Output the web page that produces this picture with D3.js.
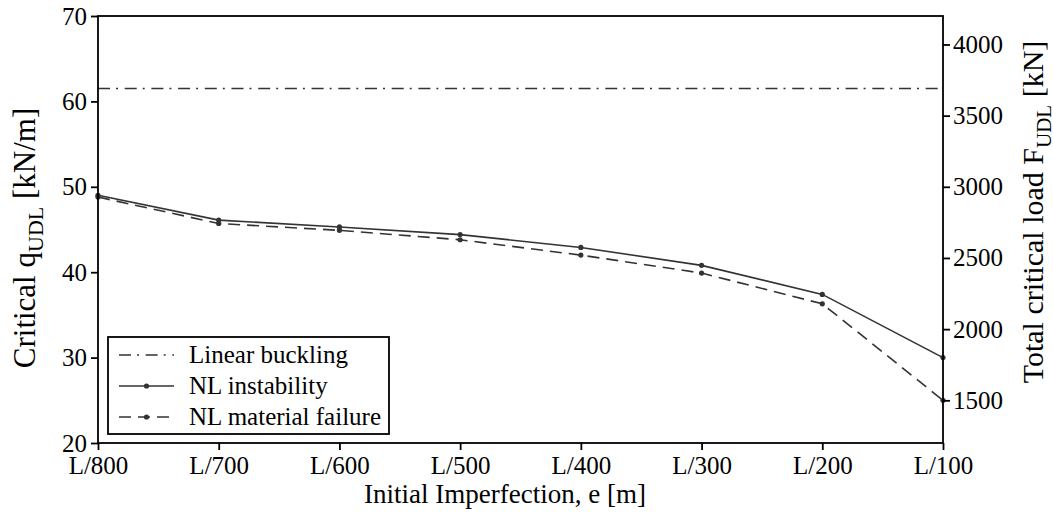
<!DOCTYPE html>
<html>
<head>
<meta charset="utf-8">
<script src="https://cdn.jsdelivr.net/npm/d3@7"></script>
</head>
<body style="margin:0">
<svg id="fig" width="1053" height="516" font-family="Liberation Serif, Times New Roman, serif">
<style>
  #fig text, #fig tspan, #fig .tick text { font-family: 'Liberation Serif', 'Times New Roman', serif !important; }
</style>
</svg>
<script>
// Imperfection levels along the member
const categories = ["L/800", "L/700", "L/600", "L/500", "L/400", "L/300", "L/200", "L/100"];
// Critical uniformly distributed load [kN/m]
const nlInstability = [49.0, 46.1, 45.3, 44.4, 42.9, 40.8, 37.4, 30.0];
const nlMaterialFailure = [48.8, 45.7, 44.9, 43.8, 42.0, 39.9, 36.3, 25.0];
const linearBuckling = 61.5;
// Left (q) and right (F) axis ticks
const leftTicks = [20, 30, 40, 50, 60, 70];
const rightTicks = [1500, 2000, 2500, 3000, 3500, 4000];
// Span length converting q [kN/m] into total load F [kN]
const spanLength = 60;

const margin = { top: 16, right: 110, bottom: 73, left: 98 };
const W = 1053, H = 516;
const iw = W - margin.left - margin.right;
const ih = H - margin.top - margin.bottom;

const svg = d3.select("#fig");
const g = svg.append("g").attr("transform", `translate(${margin.left},${margin.top})`);

const x = d3.scalePoint().domain(categories).range([0, iw]);
const y = d3.scaleLinear().domain([20, 70]).range([ih, 0]);
const yR = d3.scaleLinear().domain([20 * spanLength, 70 * spanLength]).range([ih, 0]);

const ink = "#333";

function label(sel, size) {
  return sel.attr("font-family", "Liberation Serif")
    .attr("font-size", size).attr("fill", "#000");
}

// Linear buckling reference
g.append("line")
  .attr("x1", 0).attr("x2", iw)
  .attr("y1", y(linearBuckling)).attr("y2", y(linearBuckling))
  .attr("stroke", ink).attr("stroke-width", 1.5)
  .attr("stroke-dasharray", "12,6,2,6.7");

const line = d3.line().x((d, i) => x(categories[i])).y(d => y(d));

function series(values, dash) {
  g.append("path")
    .datum(values)
    .attr("d", line)
    .attr("fill", "none")
    .attr("stroke", ink)
    .attr("stroke-width", 1.6)
    .attr("stroke-dasharray", dash);
  g.append("g").selectAll("circle")
    .data(values)
    .join("circle")
    .attr("cx", (d, i) => x(categories[i]))
    .attr("cy", d => y(d))
    .attr("r", 2.6)
    .attr("fill", ink);
}
series(nlMaterialFailure, "12,7");
series(nlInstability, null);

// Frame
g.append("rect")
  .attr("x", 0).attr("y", 0).attr("width", iw).attr("height", ih)
  .attr("fill", "none").attr("stroke", "#000").attr("stroke-width", 1.8);

function styleAxis(sel) {
  sel.attr("font-family", "Liberation Serif").attr("font-size", 25);
  sel.select(".domain").remove();
  sel.selectAll(".tick line").attr("stroke", "#000").attr("stroke-width", 1.8);
  label(sel.selectAll(".tick text"), 25);
}

g.append("g")
  .attr("transform", `translate(0,${ih})`)
  .call(d3.axisBottom(x).tickSize(7).tickPadding(6))
  .call(styleAxis);

g.append("g")
  .call(d3.axisLeft(y).tickValues(leftTicks).tickSize(7).tickPadding(4).tickFormat(d3.format("d")))
  .call(styleAxis);

g.append("g")
  .attr("transform", `translate(${iw},0)`)
  .call(d3.axisRight(yR).tickValues(rightTicks).tickSize(7).tickPadding(3).tickFormat(d3.format("d")))
  .call(styleAxis);

// Axis titles
label(svg.append("text"), 27)
  .attr("x", 505).attr("y", 503)
  .attr("text-anchor", "middle")
  .text("Initial Imperfection, e [m]");

const lt = label(svg.append("text"), 31)
  .attr("transform", "translate(35,238) rotate(-90)")
  .attr("text-anchor", "middle");
lt.append("tspan").text("Critical q");
lt.append("tspan").attr("dy", 8).attr("font-size", 22).text("UDL");
lt.append("tspan").attr("dy", -8).text(" [kN/m]");

const rt = label(svg.append("text"), 30)
  .attr("transform", "translate(1043,212) rotate(-90)")
  .attr("text-anchor", "middle");
rt.append("tspan").text("Total critical load F");
rt.append("tspan").attr("dy", 8).attr("font-size", 21).text("UDL");
rt.append("tspan").attr("dy", -8).text(" [kN]");

// Legend
const legend = svg.append("g").attr("transform", "translate(108,337)");
legend.append("rect")
  .attr("width", 281).attr("height", 97)
  .attr("fill", "#fff").attr("stroke", "#000").attr("stroke-width", 1.8);

const legendItems = [
  { label: "Linear buckling", dash: "12,6,2,6.7", marker: false },
  { label: "NL instability", dash: null, marker: true },
  { label: "NL material failure", dash: "12,7", marker: true }
];
legendItems.forEach((it, i) => {
  const cy = 18 + i * 31;
  legend.append("line")
    .attr("x1", 11).attr("x2", 66).attr("y1", cy).attr("y2", cy)
    .attr("stroke", ink).attr("stroke-width", 1.6)
    .attr("stroke-dasharray", it.dash);
  if (it.marker) {
    legend.append("circle").attr("cx", 38.5).attr("cy", cy).attr("r", 2.6).attr("fill", ink);
  }
  label(legend.append("text"), 25)
    .attr("x", 81).attr("y", cy + 8)
    .text(it.label);
});
</script>
</body>
</html>
